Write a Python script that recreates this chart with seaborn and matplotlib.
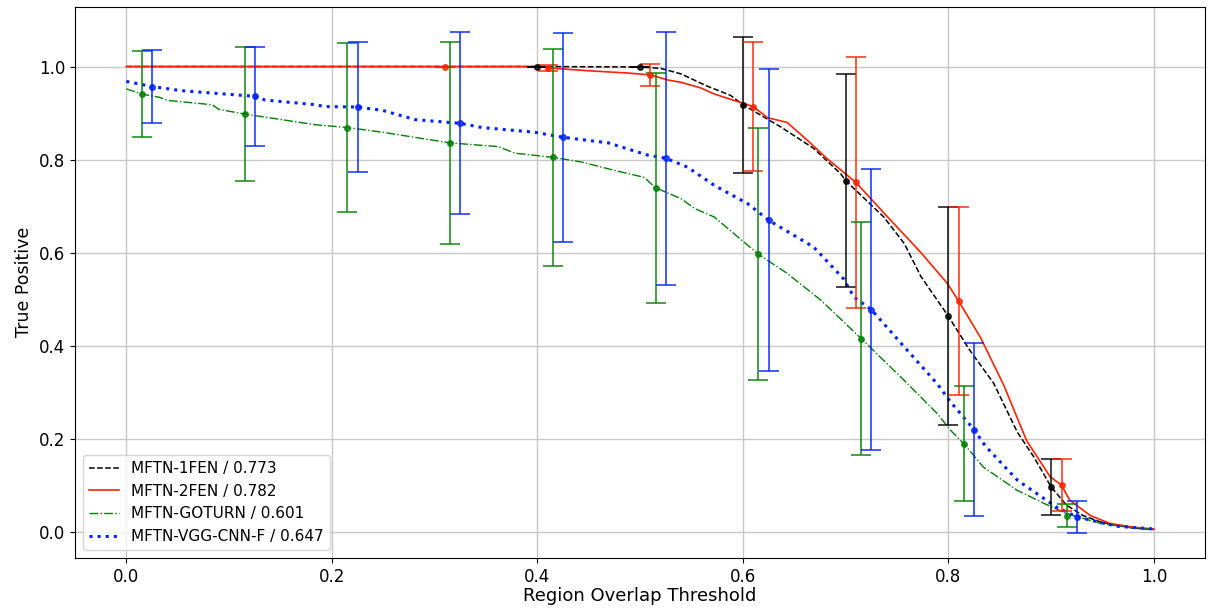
import matplotlib
matplotlib.use("Agg")
import matplotlib.pyplot as plt
import numpy as np
import pandas as pd
import seaborn as sns

# Success curves: true-positive rate vs. region overlap threshold
fen1_x = [0.0, 0.40, 0.50, 0.52, 0.54, 0.564, 0.588, 0.60, 0.637, 0.669, 0.695, 0.70, 0.737,
          0.757, 0.773, 0.80, 0.821, 0.844, 0.867, 0.883, 0.90, 0.915, 0.931, 0.948, 0.964,
          0.98, 1.0]
fen1_y = [1.0, 1.0, 0.999, 0.996, 0.984, 0.959, 0.938, 0.918, 0.870, 0.824, 0.770, 0.755,
          0.677, 0.620, 0.550, 0.4635, 0.390, 0.320, 0.215, 0.162, 0.097, 0.058, 0.036,
          0.022, 0.015, 0.009, 0.006]

fen2_x = [0.0, 0.40, 0.417, 0.449, 0.488, 0.51, 0.527, 0.54, 0.559, 0.572, 0.61, 0.624,
          0.643, 0.663, 0.682, 0.71, 0.737, 0.773, 0.799, 0.81, 0.831, 0.854, 0.876, 0.899,
          0.91, 0.918, 0.938, 0.957, 0.98, 1.0]
fen2_y = [1.0, 1.0, 0.996, 0.991, 0.986, 0.982, 0.971, 0.966, 0.954, 0.941, 0.914, 0.890,
          0.880, 0.841, 0.802, 0.751, 0.686, 0.601, 0.534, 0.496, 0.419, 0.315, 0.197, 0.119,
          0.1015, 0.069, 0.036, 0.019, 0.011, 0.007]

goturn_x = [0.0, 0.015, 0.032, 0.041, 0.0835, 0.09, 0.115, 0.184, 0.215, 0.249, 0.315, 0.362,
            0.378, 0.415, 0.443, 0.475, 0.504, 0.515, 0.52, 0.54, 0.553, 0.572, 0.615, 0.643,
            0.676, 0.715, 0.757, 0.789, 0.802, 0.815, 0.834, 0.867, 0.893, 0.915, 0.948,
            0.98, 1.0]
goturn_y = [0.952, 0.941, 0.934, 0.927, 0.918, 0.908, 0.898, 0.875, 0.869, 0.859, 0.836, 0.828,
            0.814, 0.805, 0.795, 0.777, 0.762, 0.739, 0.735, 0.716, 0.695, 0.677, 0.597, 0.556,
            0.498, 0.416, 0.326, 0.255, 0.219, 0.190, 0.140, 0.090, 0.062, 0.040, 0.019,
            0.009, 0.006]

vgg_x = [0.0, 0.025, 0.054, 0.125, 0.135, 0.184, 0.193, 0.225, 0.249, 0.281, 0.325, 0.346,
         0.397, 0.425, 0.469, 0.507, 0.525, 0.546, 0.572, 0.605, 0.625, 0.669, 0.698, 0.708,
         0.725, 0.757, 0.789, 0.802, 0.825, 0.836, 0.867, 0.886, 0.905, 0.925, 0.964, 1.0]
vgg_y = [0.968, 0.957, 0.948, 0.936, 0.928, 0.918, 0.914, 0.913, 0.906, 0.886, 0.878, 0.869,
         0.859, 0.848, 0.836, 0.810, 0.803, 0.784, 0.745, 0.705, 0.670, 0.612, 0.544, 0.505,
         0.478, 0.398, 0.319, 0.280, 0.220, 0.185, 0.112, 0.083, 0.054, 0.033, 0.013, 0.007]

# Mean and standard deviation at sampled thresholds
fen1_bar_x = [0.40, 0.50, 0.60, 0.70, 0.80, 0.90]
fen1_bar_y = [1.0, 0.999, 0.918, 0.755, 0.4635, 0.097]
fen1_bar_e = [0.0, 0.001, 0.146, 0.228, 0.234, 0.060]

fen2_bar_x = [0.31, 0.41, 0.51, 0.61, 0.71, 0.81, 0.91]
fen2_bar_y = [1.0, 0.997, 0.982, 0.914, 0.751, 0.496, 0.1015]
fen2_bar_e = [0.0, 0.007, 0.024, 0.138, 0.269, 0.202, 0.056]

goturn_bar_x = [0.015, 0.115, 0.215, 0.315, 0.415, 0.515, 0.615, 0.715, 0.815, 0.915]
goturn_bar_y = [0.941, 0.898, 0.869, 0.836, 0.805, 0.739, 0.597, 0.416, 0.190, 0.036]
goturn_bar_e = [0.092, 0.1435, 0.182, 0.217, 0.2335, 0.246, 0.271, 0.251, 0.1235, 0.025]

vgg_bar_x = [0.025, 0.125, 0.225, 0.325, 0.425, 0.525, 0.625, 0.725, 0.825, 0.925]
vgg_bar_y = [0.957, 0.936, 0.913, 0.878, 0.848, 0.803, 0.670, 0.478, 0.220, 0.033]
vgg_bar_e = [0.079, 0.106, 0.139, 0.1955, 0.225, 0.2715, 0.324, 0.3015, 0.186, 0.034]

labels = ["MFTN-1FEN / 0.773", "MFTN-2FEN / 0.782",
          "MFTN-GOTURN / 0.601", "MFTN-VGG-CNN-F / 0.647"]

series = [
    (fen1_x, fen1_y, fen1_bar_x, fen1_bar_y, fen1_bar_e, "k", "--", 1.1),
    (fen2_x, fen2_y, fen2_bar_x, fen2_bar_y, fen2_bar_e, "#ff2200", "-", 1.2),
    (goturn_x, goturn_y, goturn_bar_x, goturn_bar_y, goturn_bar_e, "#008000", "-.", 1.0),
    (vgg_x, vgg_y, vgg_bar_x, vgg_bar_y, vgg_bar_e, "#0022ff", ":", 2.2),
]

fig, ax = plt.subplots(figsize=(12.09, 6.15), dpi=100)
fig.subplots_adjust(left=0.062, right=0.997, top=0.989, bottom=0.093)

for (cx, cy, bx, by, be, col, ls, lw), lab in zip(series, labels):
    df = pd.DataFrame({"threshold": cx, "tp": cy})
    sns.lineplot(data=df, x="threshold", y="tp", ax=ax, color=col, linestyle=ls,
                 linewidth=lw, label=lab, estimator=None, sort=False)

for (cx, cy, bx, by, be, col, ls, lw) in series:
    ax.errorbar(bx, by, yerr=be, fmt="o", color=col, markersize=4, capsize=7,
                elinewidth=1.3, capthick=1.3, alpha=0.8)

ax.grid(True, color="#c8c8c8", linewidth=1.0)
ax.set_xlabel("Region Overlap Threshold", fontsize=13, labelpad=1)
ax.set_ylabel("True Positive", fontsize=12.5)
ax.tick_params(labelsize=12)
ax.legend(loc="lower left", fontsize=11, handlelength=2.0)

fig.savefig("out.png", dpi=100)
